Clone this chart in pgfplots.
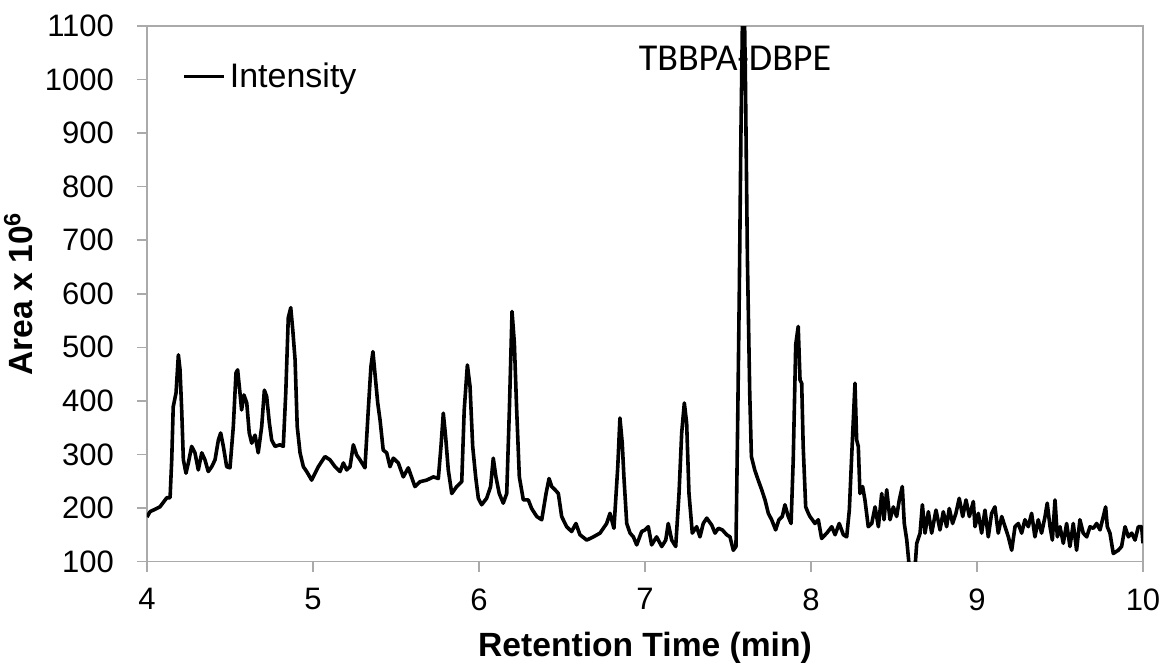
\documentclass[border=0pt]{standalone}
\usepackage{fontspec}
\setmainfont{Liberation Sans}
\newfontfamily\calibri{Carlito}
\usepackage{pgfplots}
\pgfplotsset{compat=1.18}
\definecolor{axgray}{RGB}{170,170,170}
\begin{document}
\begin{tikzpicture}
\path[use as bounding box] (-73.5pt,-52.25pt) rectangle (509.5pt,280.75pt);
\begin{axis}[
  at={(0,0)}, anchor=south west,
  scale only axis, width=498pt, height=267.75pt,
  xmin=4, xmax=10, ymin=100, ymax=1100,
  xtick={4,5,6,7,8,9,10}, ytick={100,200,...,1100},
  tick align=outside, xtick pos=bottom, ytick pos=left,
  major tick length=5pt,
  axis line style={axgray, line width=0.8pt},
  tick style={axgray, line width=0.8pt},
  every tick label/.append style={font=\fontsize{15.5}{18}\selectfont, text=black},
  xticklabel style={yshift=-5pt},
  yticklabel style={xshift=-8pt},
  /pgf/number format/assume math mode=true,
  /pgf/number format/1000 sep={},
  xlabel={\textbf{Retention Time (min)}},
  ylabel={\textbf{Area x 10\textsuperscript{6}}},
  label style={font=\fontsize{16.8}{20}\selectfont},
  xlabel style={yshift=-4pt},
  ylabel style={yshift=-1pt},
  legend style={draw=none, fill=none, at={(0.035,0.94)}, anchor=north west, font=\fontsize{17}{20}\selectfont, inner sep=0pt},
  legend cell align=left,
  legend image code/.code={\draw[#1] (0pt,0pt) -- (20pt,0pt);},
]
\addplot[black, line width=1.8pt, line join=round] coordinates {
(4.000,183)(4.018,193)(4.078,202)(4.119,219)(4.139,219)(4.149,290)(4.158,389)(4.175,415)(4.189,486)(4.199,458)
(4.209,383)(4.219,290)(4.235,265)(4.249,284)(4.269,315)(4.289,303)(4.309,271)(4.330,303)(4.349,290)(4.369,268)
(4.390,277)(4.410,290)(4.430,327)(4.444,340)(4.460,315)(4.480,277)(4.500,275)(4.520,352)(4.536,452)(4.546,458)
(4.560,415)(4.570,383)(4.584,411)(4.601,396)(4.616,340)(4.631,321)(4.651,336)(4.670,303)(4.691,352)(4.707,420)
(4.721,408)(4.737,359)(4.751,327)(4.771,315)(4.801,318)(4.821,315)(4.836,415)(4.851,555)(4.866,574)(4.878,533)
(4.892,477)(4.905,352)(4.922,303)(4.942,277)(4.962,268)(4.992,252)
(5.032,277)(5.072,296)(5.102,290)(5.133,277)(5.163,268)(5.183,284)(5.203,271)(5.223,277)(5.243,318)(5.263,299)
(5.283,290)(5.313,275)(5.333,383)(5.349,464)(5.361,492)(5.373,452)(5.390,396)(5.404,364)(5.423,308)(5.444,303)
(5.464,277)(5.484,293)(5.514,284)(5.544,258)(5.574,275)(5.614,240)(5.645,249)(5.685,252)(5.725,258)(5.755,255)
(5.771,315)(5.785,377)(5.799,333)(5.815,271)(5.836,227)(5.866,240)(5.896,249)(5.911,383)(5.930,467)(5.946,427)
(5.962,315)(5.980,258)(5.996,218)
(6.016,206)(6.046,218)(6.070,240)(6.086,293)(6.102,258)(6.122,227)(6.146,209)(6.167,227)(6.183,383)(6.199,567)
(6.213,508)(6.227,383)(6.243,258)(6.267,215)(6.297,215)(6.317,199)(6.348,184)(6.378,178)(6.404,227)(6.422,255)
(6.438,240)(6.458,234)(6.478,227)(6.498,184)(6.528,165)(6.558,156)(6.584,171)(6.608,150)(6.649,140)(6.689,146)
(6.729,153)(6.769,171)(6.789,190)(6.813,162)(6.836,277)(6.849,368)(6.863,321)(6.873,258)(6.890,171)(6.910,153)
(6.930,146)(6.950,131)(6.980,156)
(7.000,159)(7.020,165)(7.040,131)(7.070,146)(7.101,128)(7.125,140)(7.140,171)(7.161,140)(7.185,128)(7.205,227)
(7.221,340)(7.237,396)(7.251,358)(7.265,227)(7.285,153)(7.311,165)(7.331,146)(7.351,171)(7.372,181)(7.402,168)
(7.422,153)(7.442,162)(7.466,159)(7.492,150)(7.512,146)(7.532,121)(7.548,128)(7.558,352)(7.568,601)(7.578,900)
(7.593,1250)(7.605,1000)(7.617,664)(7.631,414)(7.641,296)(7.661,271)(7.682,252)(7.703,234)(7.723,215)(7.743,190)
(7.763,178)(7.787,159)(7.807,178)(7.827,184)(7.843,206)(7.863,184)(7.880,171)(7.893,290)(7.908,505)(7.923,539)
(7.934,439)(7.944,433)(7.953,315)(7.968,202)(7.984,190)
(7.994,184)(8.024,171)(8.044,178)(8.064,143)(8.095,153)(8.125,165)(8.145,150)(8.170,171)(8.195,150)(8.215,146)
(8.231,196)(8.245,296)(8.265,433)(8.275,327)(8.285,315)(8.295,227)(8.311,240)(8.325,215)(8.345,165)(8.366,171)
(8.386,202)(8.406,165)(8.426,227)(8.440,178)(8.456,234)(8.476,178)(8.496,202)(8.516,184)(8.532,215)(8.550,240)
(8.562,171)(8.577,140)(8.592,90)(8.627,90)(8.637,134)(8.657,153)(8.671,206)(8.687,153)(8.707,193)(8.727,153)
(8.753,196)(8.777,159)(8.797,193)(8.817,165)(8.833,199)(8.853,171)(8.873,190)(8.893,218)(8.914,184)(8.934,215)
(8.954,184)(8.978,212)
(8.988,165)(9.008,190)(9.028,153)(9.048,196)(9.068,146)(9.088,190)(9.108,202)(9.128,153)(9.149,184)(9.169,165)
(9.189,146)(9.209,121)(9.229,165)(9.249,171)(9.269,153)(9.289,178)(9.309,165)(9.329,190)(9.349,146)(9.369,178)
(9.389,153)(9.410,184)(9.423,209)(9.440,165)(9.454,140)(9.470,215)(9.484,146)(9.500,165)(9.520,134)(9.540,171)
(9.560,128)(9.580,171)(9.600,121)(9.620,178)(9.640,153)(9.661,146)(9.681,165)(9.701,162)(9.721,171)(9.741,159)
(9.761,184)(9.775,202)(9.785,165)(9.801,153)(9.821,115)(9.851,121)(9.871,128)(9.892,165)(9.912,146)(9.932,153)
(9.952,140)(9.972,165)(9.992,165)(10.000,134)
};
\addlegendentry{Intensity}
\node[font=\calibri\fontsize{19}{22}\selectfont, anchor=base, inner sep=0pt] at (axis cs:7.542,1017) {TBBPA-DBPE};
\end{axis}
\end{tikzpicture}
\end{document}
